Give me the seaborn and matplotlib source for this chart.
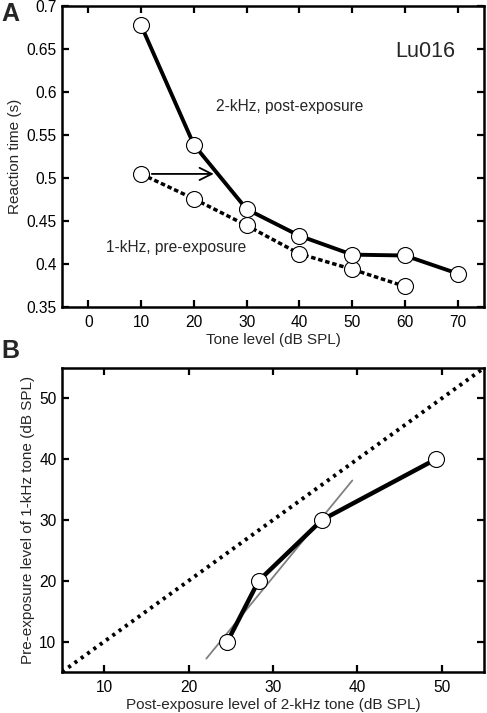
import matplotlib
matplotlib.use("Agg")
import matplotlib.pyplot as plt
import seaborn as sns
import pandas as pd

# Panel A data
levels_post = [10, 20, 30, 40, 50, 60, 70]
rt_post = [0.678, 0.539, 0.464, 0.433, 0.411, 0.410, 0.389]
levels_pre = [10, 20, 30, 40, 50, 60]
rt_pre = [0.505, 0.476, 0.445, 0.412, 0.394, 0.374]

# Panel B data
post_level = [24.6, 28.3, 35.8, 49.3]
pre_level = [10, 20, 30, 40]
fit_x = [22.1, 39.4]
fit_y = [7.2, 36.5]
diag = [5, 55]

sns.set_theme(style="ticks")
plt.rcParams['font.family'] = ['Liberation Sans', 'DejaVu Sans']
plt.rcParams['axes.linewidth'] = 1.6

fig = plt.figure(figsize=(4.87, 7.13), dpi=100)
axA = fig.add_axes([0.1273, 0.5694, 0.8665, 0.4215])
axB = fig.add_axes([0.1273, 0.0575, 0.8665, 0.4264])

dfpost = pd.DataFrame({"x": levels_post, "y": rt_post})
dfpre = pd.DataFrame({"x": levels_pre, "y": rt_pre})
mk = dict(marker="o", markersize=11.5, markerfacecolor="white", markeredgecolor="black", markeredgewidth=0.8)

sns.lineplot(data=dfpre, x="x", y="y", ax=axA, color="black", linewidth=2.5,
             linestyle=(0, (1.3, 0.8)), **mk)
sns.lineplot(data=dfpost, x="x", y="y", ax=axA, color="black", linewidth=2.8, **mk)
axA.annotate("", xy=(24.3, rt_pre[0]), xytext=(11.5, rt_pre[0]),
             arrowprops=dict(arrowstyle="->", color="black", lw=1.3, mutation_scale=22))
axA.set_xlim(-5, 75)
axA.set_ylim(0.35, 0.7)
axA.set_xticks(range(0, 71, 10))
axA.set_yticks([0.35, 0.4, 0.45, 0.5, 0.55, 0.6, 0.65, 0.7])
axA.set_yticklabels(["0.35", "0.4", "0.45", "0.5", "0.55", "0.6", "0.65", "0.7"])
axA.set_xlabel("Tone level (dB SPL)", fontsize=11, labelpad=2)
axA.set_ylabel("Reaction time (s)", fontsize=11, labelpad=3)
axA.text(63.8, 0.647, "Lu016", fontsize=15.5, ha="center", va="center")
axA.text(38.2, 0.583, "2-kHz, post-exposure", fontsize=11.2, ha="center", va="center")
axA.text(16.7, 0.419, "1-kHz, pre-exposure", fontsize=11.2, ha="center", va="center")

dfB = pd.DataFrame({"x": post_level, "y": pre_level})
sns.lineplot(x=diag, y=diag, ax=axB, color="black", linewidth=2.8, linestyle=(0, (0.8, 1.2)))
sns.lineplot(x=fit_x, y=fit_y, ax=axB, color="#808080", linewidth=1.3)
sns.lineplot(data=dfB, x="x", y="y", ax=axB, color="black", linewidth=3.2, **mk)
axB.set_xlim(5, 55)
axB.set_ylim(5, 55)
axB.set_xticks([10, 20, 30, 40, 50])
axB.set_yticks([10, 20, 30, 40, 50])
axB.set_xlabel("Post-exposure level of 2-kHz tone (dB SPL)", fontsize=11, labelpad=2)
axB.set_ylabel("Pre-exposure level of 1-kHz tone (dB SPL)", fontsize=11, labelpad=3)

for ax in (axA, axB):
    ax.tick_params(direction="in", length=5, width=1.6, top=True, right=True,
                   labelsize=11.2, pad=4, colors="black")
    ax.tick_params(axis="x", pad=6)
    for s in ax.spines.values():
        s.set_color("black")
        s.set_linewidth(1.8)

fig.text(0.002, 0.997, "A", fontsize=18, fontweight="bold", va="top", ha="left")
fig.text(0.002, 0.524, "B", fontsize=18, fontweight="bold", va="top", ha="left")

fig.savefig("out.png", dpi=100)
